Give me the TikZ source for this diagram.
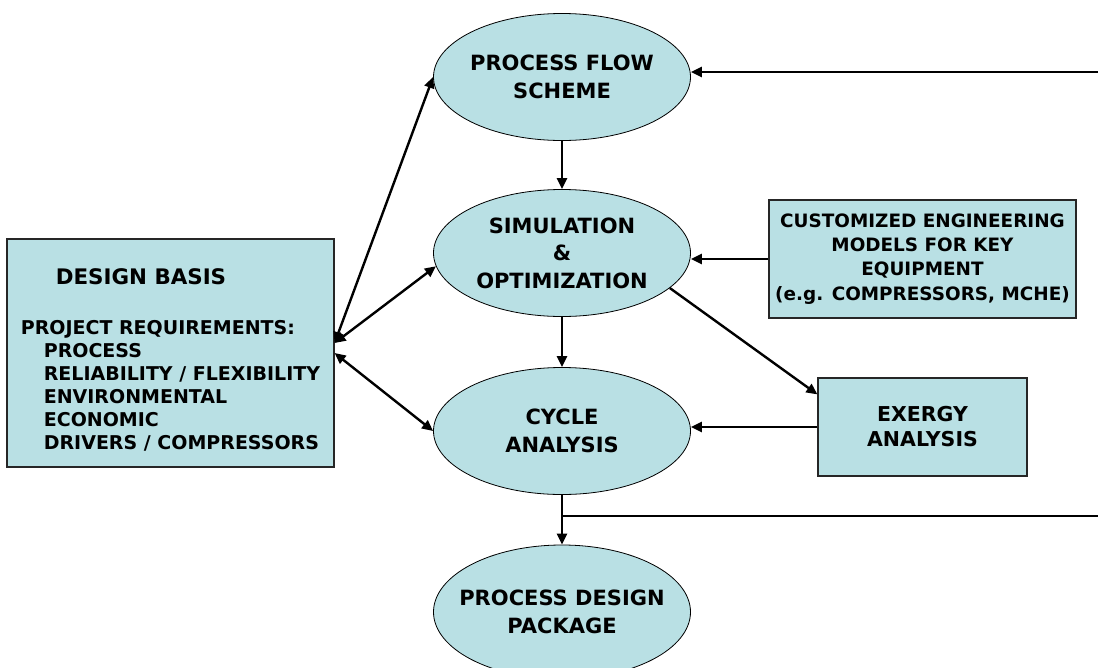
\documentclass[tikz,border=0pt]{standalone}
\usepackage{fontspec}
\setmainfont{DejaVu Sans}
\usetikzlibrary{arrows.meta,shapes.geometric}
\definecolor{stagecyan}{RGB}{185,224,228}
\tikzset{stage/.style={draw, ellipse, fill=stagecyan, line width=0.8pt, minimum width=257pt, minimum height=127pt, inner xsep=-25pt, inner ysep=0pt, align=center, font=\bfseries\fontsize{21}{27.5}\selectfont}}
\tikzset{inbox/.style={draw=black!85, fill=stagecyan, line width=1.2pt, inner sep=0pt, align=center}}
\tikzset{flow/.style={line width=2.4pt, -{Triangle[length=11pt,width=10pt]}}}
\tikzset{bflow/.style={line width=2.4pt, {Triangle[length=11pt,width=10pt]}-{Triangle[length=11pt,width=10pt]}}}

\begin{document}
\begin{tikzpicture}[x=1pt, y=-1pt]%{{{
        \useasboundingbox (0,0) rectangle (1098,667);

        % main stages
        \node[stage] (pfs) at (562,  77) {PROCESS FLOW\\SCHEME};
        \node[stage] (sim) at (562, 253) {SIMULATION\\\&\\OPTIMIZATION};
        \node[stage] (cyc) at (562, 431) {CYCLE\\ANALYSIS};
        \node[stage, minimum height=134pt] (pdp) at (562, 612) {PROCESS DESIGN\\PACKAGE};

        % side boxes
        \node[inbox, minimum width=327pt, minimum height=228pt, align=left,
              font=\bfseries\fontsize{19}{23}\selectfont] (basis) at (170.5, 353)
        {\rule{0pt}{29pt}\hspace*{35pt}{\fontsize{21.4}{23}\selectfont DESIGN BASIS}\\[27pt]
         PROJECT REQUIREMENTS:\\
         \hspace*{23pt}PROCESS\\
         \hspace*{23pt}RELIABILITY / FLEXIBILITY\\
         \hspace*{23pt}ENVIRONMENTAL\\
         \hspace*{23pt}ECONOMIC\\
         \hspace*{23pt}DRIVERS / COMPRESSORS};
        \node[inbox, minimum width=307pt, minimum height=118pt,
              font=\bfseries\fontsize{18.4}{24.3}\selectfont] (cust) at (922.5, 259)
        {CUSTOMIZED ENGINEERING\\MODELS FOR KEY\\EQUIPMENT\\(e.g. COMPRESSORS, MCHE)};
        \node[inbox, minimum width=209pt, minimum height=98pt,
              font=\bfseries\fontsize{20.5}{25}\selectfont] (exg) at (922.5, 427)
        {EXERGY\\ANALYSIS};

        \coordinate (topin) at (1098, 72);
        \coordinate (botout) at (1098, 516);

        \draw [flow] (pfs) -- (sim);
        \draw [flow] (sim) -- (cyc);
        \draw [flow] (cyc) -- (pdp);
        \draw [flow] (cust.west) -- (cust.west -| sim.east);
        \draw [flow] (exg.west) -- (exg.west -| cyc.east);
        \draw [flow] (sim.-18) -- ([yshift=-17pt]exg.north west);
        \draw [flow] (topin) -- (topin -| pfs.east);
        \draw [line width=2.4pt] (botout -| cyc.south) -- (botout);

        \draw [bflow] ([yshift=10pt]basis.east) -- (pfs.west);
        \draw [bflow] ([yshift=10pt]basis.east) -- (sim.186);
        \draw [bflow] (basis.east) -- (cyc.west);
    \end{tikzpicture}
\end{document}
